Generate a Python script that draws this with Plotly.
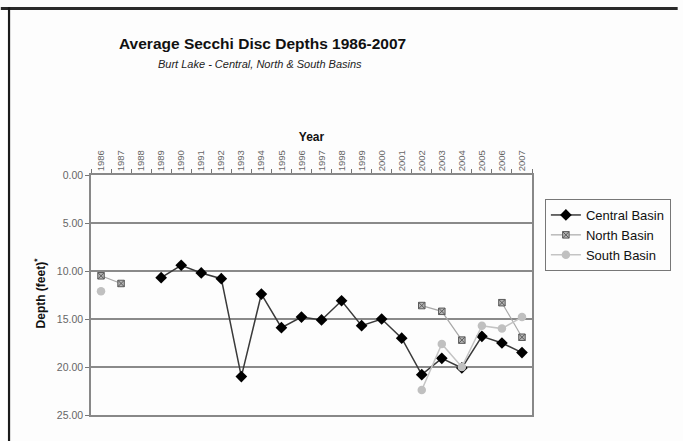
import plotly.graph_objects as go

years = [str(y) for y in range(1986, 2008)]

# Average Secchi disc depth (feet) per year; None where a basin was not sampled
central = [None, None, None, 10.7, 9.4, 10.2, 10.8, 21.0, 12.4, 15.9, 14.8,
           15.1, 13.1, 15.7, 15.0, 17.0, 20.8, 19.1, 20.1, 16.8, 17.5, 18.5]
north = [10.5, 11.3, None, None, None, None, None, None, None, None, None,
         None, None, None, None, None, 13.6, 14.2, 17.2, None, 13.3, 16.9]
south = [12.1, None, None, None, None, None, None, None, None, None, None,
         None, None, None, None, None, 22.4, 17.6, 20.0, 15.7, 16.0, 14.8]

y_ticks = [0, 5, 10, 15, 20, 25]

FONT = "Liberation Sans, Arial, sans-serif"

fig = go.Figure()
fig.add_trace(go.Scatter(
    x=years, y=central, name="Central Basin", mode="lines+markers",
    line=dict(color="#3a3a3a", width=1.5),
    marker=dict(symbol="diamond", size=9, color="#000000"),
    connectgaps=False,
))
fig.add_trace(go.Scatter(
    x=years, y=north, name="North Basin", mode="lines+markers",
    line=dict(color="#a8a8a8", width=1.2),
    marker=dict(symbol="square-x", size=6.5, color="#b4b4b4",
                line=dict(color="#5a5a5a", width=1)),
    connectgaps=False,
))
fig.add_trace(go.Scatter(
    x=years, y=south, name="South Basin", mode="lines+markers",
    line=dict(color="#c4c4c4", width=1.5),
    marker=dict(symbol="circle", size=8.5, color="#c0c0c0"),
    connectgaps=False,
))

fig.update_xaxes(
    type="category", categoryorder="array", categoryarray=years,
    side="top", tickangle=-90, tickson="boundaries",
    ticks="outside", ticklen=4, tickcolor="#777",
    showline=True, linecolor="#888", linewidth=1.5, mirror=True,
    showgrid=False, tickfont=dict(family=FONT, size=9.5, color="#666"),
    title=dict(text="<b>Year</b>", font=dict(family=FONT, size=12, color="#111"),
               standoff=6),
    range=[-0.5, 21.5],
)
fig.update_yaxes(
    range=[25, 0], tickvals=y_ticks, tickformat=".2f",
    ticks="outside", ticklen=4, tickcolor="#777",
    showline=True, linecolor="#888", linewidth=1.5, mirror=True,
    showgrid=True, gridcolor="#8a8a8a", gridwidth=1.5, zeroline=False,
    tickfont=dict(family=FONT, size=10.5, color="#666"),
)

# Outer frame (top and left edges)
L, R, T, B = 91, 536, 175, 415
W, H = 683, 441
def px(x):
    return (x - L) / (R - L)
def py(y):
    return (B - y) / (B - T)

fig.add_shape(type="line", xref="paper", yref="paper",
              x0=px(0), x1=px(W), y0=py(8.5), y1=py(8.5),
              line=dict(color="#2a2a2a", width=3))
fig.add_shape(type="line", xref="paper", yref="paper",
              x0=px(8.3), x1=px(8.3), y0=py(7), y1=py(H),
              line=dict(color="#1a1a1a", width=2.2))

fig.add_annotation(xref="paper", yref="paper", x=px(264), y=py(43),
                   text="<b>Average Secchi Disc Depths 1986-2007</b>", showarrow=False,
                   font=dict(family=FONT, size=15.5, color="#111"),
                   xanchor="center", yanchor="middle")
fig.add_annotation(xref="paper", yref="paper", x=px(262), y=py(64),
                   text="<i>Burt Lake - Central, North &amp; South Basins</i>",
                   showarrow=False, font=dict(family=FONT, size=11, color="#222"),
                   xanchor="center", yanchor="middle")
fig.add_annotation(xref="paper", yref="paper", x=px(40), y=py(293),
                   text="<b>Depth (feet)<sup>*</sup></b>", textangle=-90,
                   showarrow=False, font=dict(family=FONT, size=12, color="#111"),
                   xanchor="center", yanchor="middle")

fig.update_layout(
    width=W, height=H,
    margin=dict(l=L, r=W - R, t=T, b=H - B, pad=0),
    paper_bgcolor="#fdfdfd", plot_bgcolor="#fdfdfd",
    showlegend=True,
    legend=dict(x=px(549), y=py(199), xanchor="left", yanchor="top",
                bordercolor="#777", borderwidth=1, bgcolor="#fdfdfd",
                font=dict(family=FONT, size=13, color="#111"),
                itemwidth=30, tracegroupgap=0),
)

fig.write_html("out.html", config={"displayModeBar": False})
